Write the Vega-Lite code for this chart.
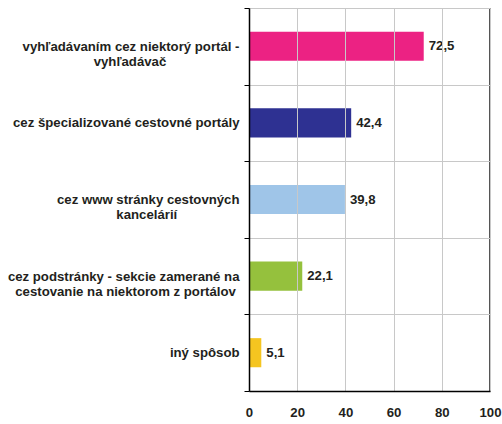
{
  "$schema": "https://vega.github.io/schema/vega-lite/v6.json",
  "width": 241,
  "height": 383,
  "autosize": {"type": "none"},
  "padding": {"left": 249, "top": 8, "right": 12, "bottom": 33},
  "background": "white",
  "config": {
    "font": "Liberation Sans",
    "view": {"stroke": "#c8c8c8", "strokeWidth": 1},
    "locale": {"number": {"decimal": ",", "thousands": " ", "grouping": [3], "currency": ["", " €"]}}
  },
  "data": {
    "values": [
      {"kategoria": "vyhľadávaním cez niektorý portál -|vyhľadávač\u00a0\u00a0\u00a0\u00a0\u00a0\u00a0\u00a0\u00a0\u00a0\u00a0\u00a0\u00a0\u00a0\u00a0\u00a0\u00a0\u00a0\u00a0\u00a0\u00a0\u200b", "hodnota": 72.5},
      {"kategoria": "cez špecializované cestovné portály", "hodnota": 42.4},
      {"kategoria": "cez www stránky cestovných|kancelárií\u00a0\u00a0\u00a0\u00a0\u00a0\u00a0\u00a0\u00a0\u00a0\u00a0\u00a0\u00a0\u00a0\u00a0\u00a0\u00a0\u00a0\u200b", "hodnota": 39.8},
      {"kategoria": "cez podstránky - sekcie zamerané na|cestovanie na niektorom z portálov\u00a0\u200b", "hodnota": 22.1},
      {"kategoria": "iný spôsob", "hodnota": 5.1}
    ]
  },
  "layer": [
    {
      "mark": {"type": "bar", "height": {"band": 0.38}},
      "encoding": {
        "y": {
          "field": "kategoria", "type": "nominal", "sort": null,
          "scale": {"paddingInner": 0, "paddingOuter": 0},
          "axis": {
            "title": null,
            "tickBand": "extent",
            "grid": true,
            "gridColor": "#c8c8c8",
            "domainColor": "#000",
            "domainWidth": 1.5,
            "tickColor": "#000",
            "tickSize": 5,
            "labelFont": "Liberation Sans",
            "labelFontWeight": "bold",
            "labelFontSize": 13.2,
            "labelColor": "#231f20",
            "labelPadding": 5,
            "labelLineHeight": 15,
            "labelLimit": 400,
            "labelBaseline": "middle",
            "labelExpr": "split(datum.label, '|')",
            "zindex": 1
          }
        },
        "x": {
          "field": "hodnota", "type": "quantitative",
          "scale": {"domain": [0, 100]},
          "axis": {
            "title": null,
            "values": [0, 20, 40, 60, 80, 100],
            "grid": true,
            "gridColor": "#c8c8c8",
            "domainColor": "#000",
            "domainWidth": 1.5,
            "ticks": false,
            "labelPadding": 15,
            "labelFont": "Liberation Sans",
            "labelFontWeight": "bold",
            "labelFontSize": 13.2,
            "labelColor": "#231f20",
            "labelFlush": false,
            "zindex": 1
          }
        },
        "color": {
          "field": "kategoria", "type": "nominal", "legend": null, "sort": null,
          "scale": {
            "range": ["#ec2283", "#2e3192", "#9fc5e8", "#95c13d", "#f5c520"]
          }
        }
      }
    },
    {
      "mark": {"type": "text", "align": "left", "dx": 5, "fontWeight": "bold", "fontSize": 13.2, "color": "#231f20", "font": "Liberation Sans"},
      "encoding": {
        "y": {"field": "kategoria", "type": "nominal", "sort": null},
        "x": {"field": "hodnota", "type": "quantitative"},
        "text": {"field": "hodnota", "type": "quantitative", "format": ".1f"}
      }
    },
    {
      "data": {"values": [{"hranica": 100}]},
      "mark": {"type": "rule", "color": "#555555", "strokeWidth": 2},
      "encoding": {"x": {"field": "hranica", "type": "quantitative"}}
    }
  ]
}
